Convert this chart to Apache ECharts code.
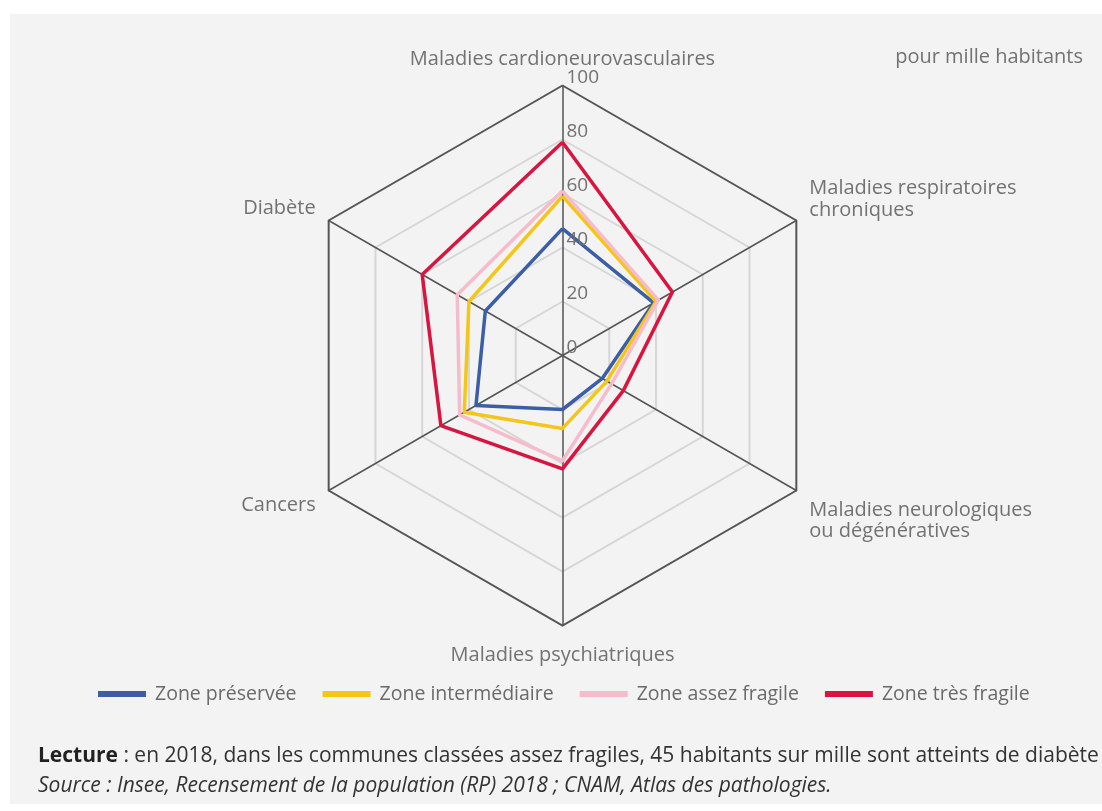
<!DOCTYPE html>
<html lang="fr">
<head>
<meta charset="utf-8">
<title>Pathologies pour mille habitants selon le type de zone</title>
<script src="https://cdn.jsdelivr.net/npm/echarts@6/dist/echarts.min.js"></script>
<style>
  html, body { margin: 0; padding: 0; background: #ffffff; }
  #panel { position: absolute; left: 10px; top: 14px; width: 1092px; height: 790px; background: #f3f3f3; }
  #chart { position: absolute; left: 0; top: 0; width: 1102px; height: 811px; }
</style>
</head>
<body>
<div id="panel"></div>
<div id="chart"></div>
<script>
// Pathologies, listed in radar order (first at the top, then anticlockwise)
const categories = [
  'Maladies cardioneurovasculaires',
  'Diabète',
  'Cancers',
  'Maladies psychiatriques',
  'Maladies neurologiques\nou dégénératives',
  'Maladies respiratoires\nchroniques'
];

// Patients per thousand inhabitants, same order as categories
const zonePreservee     = [47, 33, 37, 20, 17, 39];
const zoneIntermediaire = [59, 40, 42, 27, 19, 40];
const zoneAssezFragile  = [61, 45, 44, 39, 21, 41];
const zoneTresFragile   = [79, 60, 52, 42, 26, 47];

const seriesNames = ['Zone préservée', 'Zone intermédiaire', 'Zone assez fragile', 'Zone très fragile'];
const seriesColors = ['#3b5ea6', '#f5c518', '#f6bccb', '#d8143f'];
const scaleMax = 100;
const scaleStep = 20;

const unitLabel = 'pour mille habitants';
const readingNote = 'en 2018, dans les communes classées assez fragiles, 45 habitants sur mille sont atteints de diabète';
const sourceNote = 'Source : Insee, Recensement de la population (RP) 2018 ; CNAM, Atlas des pathologies.';

const FONT = '"Open Sans", "Noto Sans", sans-serif';
const NAME_SIZE = 20;
const NAME_LH = 23;
const NAME_COLOR = '#727272';
const center = [562.5, 355.5];
const radius = 270;

// Extra room added above / below each axis name, in category order: [above, below]
const nameRoom = [[0, 0], [0, 6], [12, 0], [2, 0], [44, 0], [0, 26]];

const nameRich = {};
nameRoom.forEach(([above, below], i) => {
  const base = { fontFamily: FONT, fontSize: NAME_SIZE, color: NAME_COLOR };
  nameRich['a' + i] = Object.assign({}, base, { lineHeight: NAME_LH + above, verticalAlign: 'bottom' });
  nameRich['b' + i] = Object.assign({}, base, { lineHeight: NAME_LH + below, verticalAlign: 'top' });
  nameRich['m' + i] = Object.assign({}, base, { lineHeight: NAME_LH });
});

function formatName(name) {
  const i = categories.indexOf(name);
  const lines = name.split('\n');
  const [above, below] = nameRoom[i];
  if (lines.length === 1) {
    const tag = above > 0 ? 'a' : (below > 0 ? 'b' : 'm');
    return '{' + tag + i + '|' + lines[0] + '}';
  }
  return lines.map((line, k) => {
    let tag = 'm';
    if (k === 0 && above > 0) tag = 'a';
    if (k === lines.length - 1 && below > 0) tag = 'b';
    return '{' + tag + i + '|' + line + '}';
  }).join('\n');
}

const chart = echarts.init(document.getElementById('chart'), null, { renderer: 'canvas' });

const values = [zonePreservee, zoneIntermediaire, zoneAssezFragile, zoneTresFragile];

chart.setOption({
  backgroundColor: 'transparent',
  animation: false,
  textStyle: { fontFamily: FONT },
  title: {
    text: unitLabel,
    right: 14,
    top: 42,
    textStyle: { fontFamily: FONT, fontSize: NAME_SIZE, fontWeight: 'normal', color: NAME_COLOR }
  },
  legend: {
    top: 679,
    left: 93,
    icon: 'rect',
    itemWidth: 48,
    itemHeight: 6,
    itemGap: 26,
    data: seriesNames,
    textStyle: { fontFamily: FONT, fontSize: 19.5, color: '#6a6a6a', padding: [0, 0, 0, 4] }
  },
  radar: {
    center: center,
    radius: radius,
    startAngle: 90,
    splitNumber: scaleMax / scaleStep,
    shape: 'polygon',
    nameGap: 15,
    axisName: {
      fontFamily: FONT, fontSize: NAME_SIZE, color: NAME_COLOR, lineHeight: NAME_LH,
      formatter: formatName,
      rich: nameRich
    },
    indicator: categories.map(name => ({ name: name, min: 0, max: scaleMax })),
    axisLine: { lineStyle: { color: '#555555', width: 1.5 } },
    splitLine: {
      lineStyle: {
        color: ['#d6d6d6', '#d6d6d6', '#d6d6d6', '#d6d6d6', '#d6d6d6', '#555555'],
        width: 2
      }
    },
    splitArea: { show: false },
    axisTick: { show: false },
    axisLabel: { show: false }
  },
  // Overlaid polar system carrying the single graduated scale on the vertical axis
  polar: { center: center, radius: radius },
  angleAxis: {
    type: 'value', min: 0, max: 360, startAngle: 90, show: false
  },
  radiusAxis: {
    type: 'value',
    min: 0,
    max: scaleMax,
    interval: scaleStep,
    axisLine: { show: false },
    axisTick: { show: false },
    splitLine: { show: false },
    axisLabel: {
      show: true,
      fontFamily: FONT,
      fontSize: 19,
      color: '#727272',
      margin: -4,
      align: 'left',
      verticalAlign: 'bottom',
      lineHeight: 16
    },
    z: 5
  },
  series: [{
    type: 'radar',
    symbol: 'none',
    z: 3,
    data: values.map((vals, i) => ({
      name: seriesNames[i],
      value: vals,
      lineStyle: { color: seriesColors[i], width: 3.5 },
      itemStyle: { color: seriesColors[i] }
    }))
  }],
  graphic: [
    {
      type: 'text',
      left: 38,
      top: 746,
      style: {
        text: '{b|Lecture} : ' + readingNote,
        font: '21px ' + FONT,
        fill: '#333333',
        rich: { b: { fontWeight: 'bold', fontSize: 21, fontFamily: FONT, fill: '#222222' } }
      }
    },
    {
      type: 'text',
      left: 38,
      top: 776,
      style: {
        text: sourceNote,
        font: 'italic 21px ' + FONT,
        fill: '#333333'
      }
    }
  ]
});
</script>
</body>
</html>
